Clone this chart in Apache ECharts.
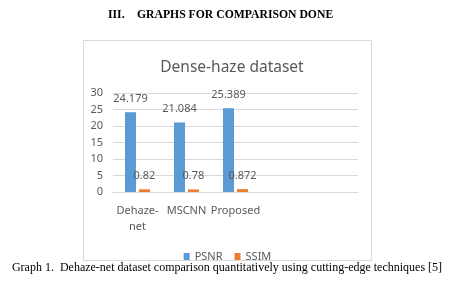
<!DOCTYPE html>
<html><head><meta charset="utf-8">
<script src="https://cdn.jsdelivr.net/npm/echarts@6/dist/echarts.min.js"></script>
<style>html,body{margin:0;padding:0;background:#fff}#c{width:455px;height:301px}</style>
</head><body><div id="c"></div>
<script>
var categories = ['Dehaze-\nnet', 'MSCNN', 'Proposed', '', ''];
var psnr = [24.179, 21.084, 25.389, null, null];
var ssim = [0.82, 0.78, 0.872, null, null];
var yTicks = {min: 0, max: 30, interval: 5};

var chart = echarts.init(document.getElementById('c'), null, {renderer: 'canvas'});
var gray = '#595959';
var font = 'Noto Sans';
chart.setOption({
  animation: false,
  backgroundColor: '#fff',
  textStyle: {fontFamily: font},
  graphic: [
    {type: 'rect', shape: {x: 83.5, y: 40.5, width: 288, height: 220}, style: {fill: 'none', stroke: '#d9d9d9', lineWidth: 1}, z: -1},
    {type: 'text', x: 108, y: 15, style: {text: 'III.', font: 'bold 11.7px "Liberation Serif"', fill: '#000', textVerticalAlign: 'middle'}},
    {type: 'text', x: 137, y: 15, style: {text: 'GRAPHS FOR COMPARISON DONE', font: 'bold 11.7px "Liberation Serif"', fill: '#000', textVerticalAlign: 'middle'}},
    {type: 'text', x: 227, y: 267.5, style: {text: 'Graph 1.  Dehaze-net dataset comparison quantitatively using cutting-edge techniques [5]', font: '12px "Liberation Serif"', fill: '#000', textAlign: 'center', textVerticalAlign: 'middle'}}
  ],
  title: {
    text: 'Dense-haze dataset', left: 227, top: 55, textAlign: 'center',
    textStyle: {fontFamily: font, fontSize: 15.5, fontWeight: 'normal', color: gray}
  },
  legend: {
    data: ['PSNR', 'SSIM'], left: 'center', top: 246, itemWidth: 6, itemHeight: 7, itemGap: 12,
    icon: 'rect',
    textStyle: {fontFamily: font, fontSize: 11, color: gray}
  },
  grid: {left: 113, right: 97, top: 93, bottom: 109, containLabel: false},
  xAxis: {
    type: 'category', data: categories,
    axisLine: {lineStyle: {color: '#d9d9d9'}},
    axisTick: {show: false},
    axisLabel: {color: gray, fontSize: 11, fontFamily: font, margin: 11, lineHeight: 16, interval: 0}
  },
  yAxis: {
    type: 'value', min: yTicks.min, max: yTicks.max, interval: yTicks.interval,
    axisLine: {show: false}, axisTick: {show: false},
    splitLine: {lineStyle: {color: '#d9d9d9'}},
    axisLabel: {color: gray, fontSize: 11, fontFamily: font, margin: 10}
  },
  series: [
    {name: 'PSNR', type: 'bar', data: psnr, barWidth: 11, barGap: '27%',
      itemStyle: {color: '#5B9BD5'},
      label: {show: true, position: 'top', distance: 8, color: gray, fontSize: 11, fontFamily: font}},
    {name: 'SSIM', type: 'bar', data: ssim, barWidth: 11,
      itemStyle: {color: '#ED7D31'},
      label: {show: true, position: 'top', distance: 8, color: gray, fontSize: 11, fontFamily: font}}
  ]
});
</script></body></html>
